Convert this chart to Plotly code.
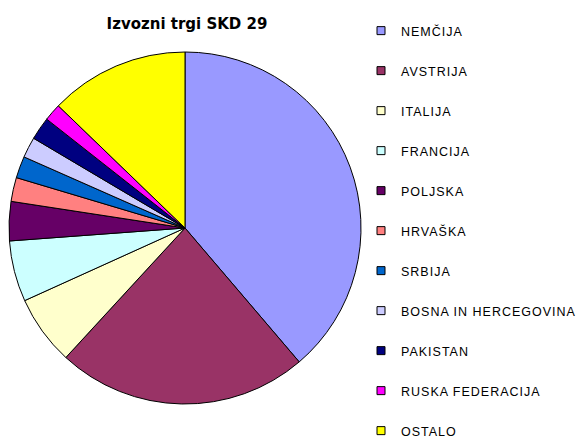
import plotly.graph_objects as go

countries = ["NEMČIJA", "AVSTRIJA", "ITALIJA", "FRANCIJA", "POLJSKA", "HRVAŠKA",
             "SRBIJA", "BOSNA IN HERCEGOVINA", "PAKISTAN", "RUSKA FEDERACIJA", "OSTALO"]
shares = [38.8, 23.1, 6.4, 5.6, 3.6, 2.2, 2.0, 1.9, 2.1, 1.6, 12.8]
colors = ["#9999FF", "#993366", "#FFFFCC", "#CCFFFF", "#660066", "#FF8080",
          "#0066CC", "#CCCCFF", "#000080", "#FF00FF", "#FFFF00"]
title_text = "Izvozni trgi SKD 29"

# figure is a little larger than the 579x438 window so the legend is not squeezed;
# the extra strip on the right/bottom is empty and hidden
W, H = 592, 452
cx, cy, r = 185, 228, 176

fig = go.Figure()
fig.add_trace(go.Pie(
    labels=countries, values=shares, sort=False, direction="clockwise", rotation=0,
    marker=dict(colors=colors, line=dict(color="#000000", width=1)),
    textinfo="none", hoverinfo="label+percent", showlegend=False,
    domain=dict(x=[(cx - r) / W, (cx + r) / W], y=[(H - cy - r) / H, (H - cy + r) / H]),
))

# legend entries (one per country, same colours as the slices)
for name, col in zip(countries, colors):
    fig.add_trace(go.Scatter(
        x=[None], y=[None], mode="markers", legendgroup=name,
        name='<span style="letter-spacing:1px">' + name + '</span>',
        marker=dict(symbol="square", size=8, color=col, line=dict(color="#000000", width=1)),
        hoverinfo="skip",
    ))

fig.update_layout(
    width=W, height=H,
    margin=dict(l=0, r=0, t=0, b=0),
    paper_bgcolor="white", plot_bgcolor="white",
    xaxis=dict(visible=False), yaxis=dict(visible=False),
    title=dict(text="<b>" + title_text + "</b>",
               x=(cx + 2) / W, xanchor="center", y=1 - 23.5 / H, yanchor="middle",
               font=dict(family="DejaVu Sans, Liberation Sans, sans-serif", size=15,
                         color="#000000")),
    legend=dict(x=361 / W, xanchor="left", y=1 - 16 / H, yanchor="top",
                traceorder="grouped", tracegroupgap=20.75,
                font=dict(family="Liberation Sans, Arial, sans-serif", size=12.5, color="#000000"),
                bgcolor="rgba(0,0,0,0)", borderwidth=0),
)

fig.write_html("out.html", config={"displayModeBar": False},
               post_script="document.body.style.margin='0px';document.body.style.overflow='hidden';")
